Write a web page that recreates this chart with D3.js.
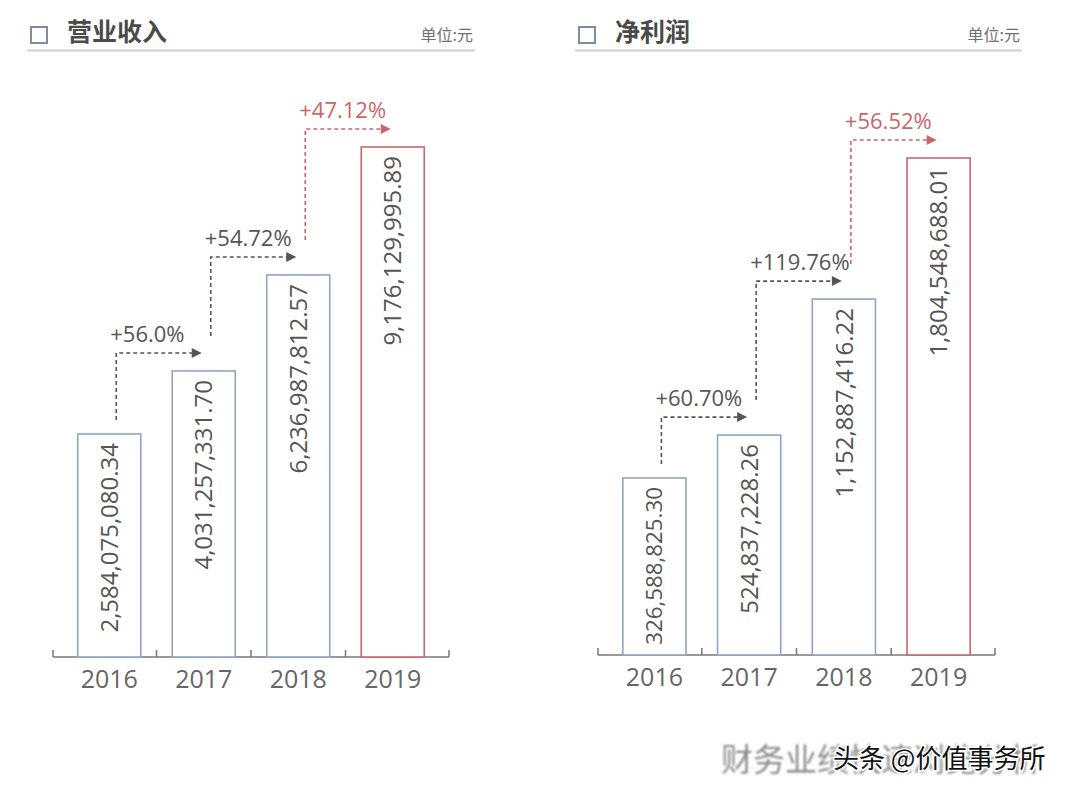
<!DOCTYPE html>
<html>
<head>
<meta charset="utf-8">
<script src="https://cdn.jsdelivr.net/npm/d3@7"></script>
<style>
  html, body { margin: 0; padding: 0; background: #fff; }
  svg { display: block; }
</style>
</head>
<body>
<svg id="chart" width="1084" height="802"></svg>
<script>
// ---------- data ----------
const years = ["2016", "2017", "2018", "2019"];
const revenue = [2584075080.34, 4031257331.70, 6236987812.57, 9176129995.89];
const revenueGrowth = ["+56.0%", "+54.72%", "+47.12%"];
const netProfit = [326588825.30, 524837228.26, 1152887416.22, 1804548688.01];
const profitGrowth = ["+60.70%", "+119.76%", "+56.52%"];
const titles = ["营业收入", "净利润"];
const unitLabel = "单位:元";
const watermarkBack = "财务业绩快速浏览分析";
const watermarkFront = "头条 @价值事务所";

// ---------- styles ----------
const FONT = "'Open Sans', 'Noto Sans', sans-serif";
const CJK = "'Noto Sans CJK SC', sans-serif";
const BLUE = "#92a4c2";
const RED = "#c8676a";
const GRAY = "#555";
const svg = d3.select("#chart");

const defs = svg.append("defs");
defs.append("filter").attr("id", "blur")
  .append("feGaussianBlur").attr("stdDeviation", 0.9);

const fmt = d3.format(",.2f");

function drawPanel(opt) {
  const g = svg.append("g");
  // header
  g.append("rect").attr("x", opt.hx).attr("y", 27).attr("width", 16).attr("height", 16)
    .attr("fill", "none").attr("stroke", "#7f8ca8").attr("stroke-width", 2);
  g.append("text").attr("x", opt.hx + 36).attr("y", 41)
    .attr("font-family", CJK).attr("font-weight", "bold").attr("font-size", 25)
    .attr("fill", "#4a4a4a").text(opt.title);
  g.append("text").attr("x", opt.hEnd - 2).attr("y", 41).attr("text-anchor", "end")
    .attr("font-family", CJK).attr("font-size", 16).attr("fill", "#707070").text(unitLabel);
  g.append("line").attr("x1", opt.hx - 4).attr("x2", opt.hEnd).attr("y1", 50.5).attr("y2", 50.5)
    .attr("stroke", "#cfcfcf").attr("stroke-width", 2);

  const x = d3.scaleBand().domain(years).range(opt.xRange)
    .paddingInner(1 / 3).paddingOuter(0.262);
  const y = d3.scaleLinear().domain(opt.yDomain).range([opt.base, opt.top]);
  const bw = x.bandwidth();
  const step = x.step();

  // axis line + upward ticks
  const tickXs = [opt.xRange[0]]
    .concat(years.slice(1).map(d => x(d) - step * x.paddingInner() / 2))
    .concat([opt.xRange[1]]);
  g.append("line").attr("x1", opt.xRange[0]).attr("x2", opt.xRange[1])
    .attr("y1", opt.base).attr("y2", opt.base).attr("stroke", "#777").attr("stroke-width", 1.5);
  g.selectAll(".tk").data(tickXs).join("line")
    .attr("x1", d => d).attr("x2", d => d).attr("y1", opt.base).attr("y2", opt.base - 7)
    .attr("stroke", "#777").attr("stroke-width", 1.5);

  // bars
  g.selectAll(".bar").data(opt.values).join("rect")
    .attr("x", (d, i) => x(years[i]))
    .attr("y", d => y(d))
    .attr("width", bw)
    .attr("height", d => opt.base - y(d))
    .attr("fill", "#fff")
    .attr("stroke", (d, i) => i === years.length - 1 ? RED : BLUE)
    .attr("stroke-width", 1.6);

  // bar values rotated (shrunk to fit short bars)
  g.selectAll(".val").data(opt.values).join("text")
    .attr("transform", (d, i) => `translate(${x(years[i]) + bw / 2},${y(d) + 9}) rotate(-90)`)
    .attr("text-anchor", "end").attr("dy", "0.36em")
    .attr("font-family", FONT).attr("font-size", 24).attr("fill", "#555")
    .text(d => fmt(d))
    .each(function (d) {
      const avail = opt.base - y(d) - 9 - 10;
      const len = this.getComputedTextLength();
      if (len > avail) d3.select(this).attr("font-size", 24 * avail / len);
    });

  // year labels
  g.selectAll(".yr").data(years).join("text")
    .attr("x", d => x(d) + bw / 2).attr("y", opt.base + 31)
    .attr("text-anchor", "middle").attr("font-family", FONT).attr("font-size", 25)
    .attr("fill", "#666").text(d => d);

  // growth arrows
  let prevLabelBase = null;
  opt.growth.forEach((lab, i) => {
    const col = i === opt.growth.length - 1 ? RED : GRAY;
    const lx = x(years[i]) + bw / 2 + 7;
    const yBottom = i === 0 ? y(opt.values[i]) - 14 : prevLabelBase - 6;
    const hy = y(opt.values[i + 1]) - 18;
    const tip = x(years[i + 1]) + bw / 2 - 2;
    g.append("path")
      .attr("d", `M${lx},${yBottom}V${hy}H${tip - 9}`)
      .attr("fill", "none").attr("stroke", col).attr("stroke-width", 1.6)
      .attr("stroke-dasharray", "4,3");
    g.append("path")
      .attr("d", `M${tip - 10},${hy - 5}L${tip},${hy}L${tip - 10},${hy + 5}Z`)
      .attr("fill", col);
    const lb = hy - 11;
    g.append("text").attr("x", lx - 6).attr("y", lb)
      .attr("font-family", FONT).attr("font-size", 22).attr("fill", col).text(lab);
    prevLabelBase = lb;
  });
}

drawPanel({
  title: titles[0], hx: 31, hEnd: 475,
  xRange: [53, 449], base: 657, top: 147,
  yDomain: [-2.5387e9, revenue[3]],
  values: revenue, growth: revenueGrowth
});
drawPanel({
  title: titles[1], hx: 579, hEnd: 1022,
  xRange: [598, 995], base: 655, top: 158,
  yDomain: [-4.909e8, netProfit[3]],
  values: netProfit, growth: profitGrowth
});

// watermark (blurred backdrop text with the site tag printed over it)
svg.append("text").attr("x", 721).attr("y", 771)
  .attr("font-family", CJK).attr("font-size", 32).attr("fill", "#8a8a8a")
  .attr("filter", "url(#blur)").text(watermarkBack);
svg.append("text").attr("x", 833).attr("y", 768)
  .attr("font-family", CJK).attr("font-size", 26).attr("fill", "#111")
  .attr("stroke", "#fff").attr("stroke-width", 3).attr("paint-order", "stroke")
  .text(watermarkFront);
</script>
</body>
</html>
